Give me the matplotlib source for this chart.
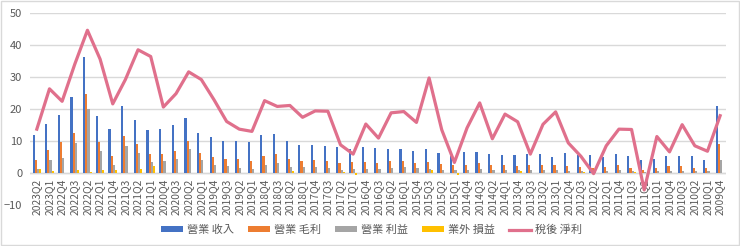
import numpy as np
import matplotlib
matplotlib.use("Agg")
import matplotlib.pyplot as plt
import matplotlib.transforms as mtrans
from matplotlib.patches import Rectangle

plt.rcParams['font.family'] = ['Noto Sans CJK TC', 'DejaVu Sans']

# quarters, newest first (as in the reference)
quarters = ["2023Q2", "2023Q1", "2022Q4", "2022Q3", "2022Q2", "2022Q1", "2021Q4", "2021Q3",
            "2021Q2", "2021Q1", "2020Q4", "2020Q3", "2020Q2", "2020Q1", "2019Q4", "2019Q3",
            "2019Q2", "2019Q1", "2018Q4", "2018Q3", "2018Q2", "2018Q1", "2017Q4", "2017Q3",
            "2017Q2", "2017Q1", "2016Q4", "2016Q3", "2016Q2", "2016Q1", "2015Q4", "2015Q3",
            "2015Q2", "2015Q1", "2014Q4", "2014Q3", "2014Q2", "2014Q1", "2013Q4", "2013Q3",
            "2013Q2", "2013Q1", "2012Q4", "2012Q3", "2012Q2", "2012Q1", "2011Q4", "2011Q3",
            "2011Q2", "2011Q1", "2010Q4", "2010Q3", "2010Q2", "2010Q1", "2009Q4"]

revenue = [12.0, 15.4, 18.0, 23.8, 36.3, 17.9, 13.7, 20.8, 16.7, 13.5, 13.9, 14.9, 17.3, 12.4,
           11.4, 9.9, 9.9, 9.8, 12.0, 12.3, 10.1, 8.6, 8.9, 8.3, 8.1, 7.6, 8.0, 7.9, 7.6, 7.5,
           6.8, 7.5, 6.4, 5.2, 6.6, 6.6, 5.8, 5.7, 5.7, 5.8, 5.8, 5.1, 6.4, 5.7, 5.7, 5.0,
           5.9, 5.3, 4.1, 4.4, 5.3, 5.4, 5.4, 4.2, 21.0]
gross = [4.2, 7.1, 9.6, 12.5, 24.6, 9.6, 5.2, 11.7, 9.2, 5.9, 5.9, 7.0, 10.0, 6.4,
         5.1, 4.5, 4.3, 3.9, 5.2, 5.9, 4.5, 3.9, 4.0, 3.9, 3.0, 3.4, 3.4, 3.2, 3.6, 3.9,
         3.0, 3.3, 2.7, 2.4, 2.5, 3.2, 2.4, 2.5, 2.2, 2.5, 2.5, 2.4, 2.1, 2.0, 1.6, 1.8,
         2.4, 1.7, 1.0, 1.6, 2.2, 2.2, 1.6, 1.6, 9.2]
op_income = [1.4, 4.0, 4.7, 9.4, 20.0, 7.0, 2.6, 8.3, 6.2, 3.4, 3.9, 4.5, 7.4, 4.0,
             2.5, 2.1, 1.7, 1.4, 2.5, 3.0, 2.0, 1.8, 2.0, 1.7, 0.8, 1.2, 1.4, 1.1, 1.6, 1.8,
             1.5, 1.4, 0.9, 0.8, 0.9, 1.4, 0.8, 0.9, 0.8, 0.9, 1.0, 0.8, 0.7, 0.7, 0.5, 0.5,
             0.8, 0.5, 0.4, 0.5, 0.7, 0.7, 0.5, 0.5, 4.0]
non_op = [1.4, 0.5, 0.1, 0.8, 0.2, 1.0, 1.0, -0.1, 1.2, 2.1, 0.0, 0.0, 0.0, 0.0,
          0.0, 0.0, 0.0, 0.0, 0.0, 0.0, 0.7, 0.0, 0.0, 0.0, 0.3, -0.6, 0.0, 0.0, 0.0, 0.0,
          0.0, 1.0, 0.0, -0.6, 0.0, 0.0, 0.0, 0.0, 0.5, 0.0, 0.0, 0.0, 0.0, 0.2, 0.0, 0.0,
          0.0, 0.3, 0.0, 0.0, 0.0, 0.0, 0.0, 0.0, 0.0]
net_income = [13.7, 26.3, 22.4, 34.0, 44.6, 35.6, 21.6, 29.2, 38.5, 36.4, 20.6, 24.8, 31.6, 29.2,
              22.9, 16.1, 13.7, 13.0, 22.6, 20.8, 21.1, 17.4, 19.4, 19.3, 8.8, 5.9, 15.3, 10.9,
              18.8, 19.2, 15.8, 29.7, 13.5, 3.3, 14.1, 21.9, 10.7, 18.4, 16.0, 5.9, 15.2, 19.1,
              9.4, 5.2, -0.2, 8.5, 13.7, 13.6, -5.3, 11.4, 6.6, 15.1, 8.5, 6.8, 17.9]

labels = ["營業 收入", "營業 毛利", "營業 利益", "業外 損益", "稅後 淨利"]
colors = ["#4472C4", "#ED7D31", "#A5A5A5", "#FFC000", "#E0708C"]

fig = plt.figure(figsize=(7.4, 2.46), dpi=100)
ax = fig.add_axes([0.0412, 0.1667, 0.9405, 0.7805])

x = np.arange(len(quarters))
w = 0.17
bars = []
for i, s in enumerate([revenue, gross, op_income, non_op]):
    b = ax.bar(x + (i - 1.5) * w, s, width=w, color=colors[i], label=labels[i], zorder=2)
    bars.append(b)
line, = ax.plot(x, net_income, color=colors[4], lw=2.3, label=labels[4], zorder=3)

ax.set_xlim(-0.5, len(quarters) - 0.5)
ax.set_ylim(-10, 50)
ax.set_yticks(range(-10, 51, 10))
ax.grid(axis='y', color='#d9d9d9', lw=1, zorder=0)
ax.axhline(0, color='#d9d9d9', lw=1, zorder=1)
for sp in ax.spines.values():
    sp.set_visible(False)

ax.set_xticks(x)
ax.set_xticklabels(quarters, rotation=90, fontsize=7.4, color='#595959', va='top')
ax.tick_params(axis='x', length=0, pad=4)
ax.tick_params(axis='y', length=0, pad=6, labelsize=8, labelcolor='#595959')

# move the category labels up so they hang just under the zero line (Excel style)
shift = mtrans.ScaledTranslation(0, 32 / 100, fig.dpi_scale_trans)
for lab in ax.get_xticklabels():
    lab.set_transform(lab.get_transform() + shift)

fig.legend(handles=bars + [line], labels=labels, loc='center', bbox_to_anchor=(0.502, 0.066),
           ncol=5, frameon=False, fontsize=8, handlelength=2.0, handleheight=0.45,
           handletextpad=0.3, columnspacing=1.3, labelcolor='#595959')

# thin frame round the whole chart
fig.patches.append(Rectangle((0.002, 0.004), 0.996, 0.99, transform=fig.transFigure,
                             fill=False, edgecolor='#d9d9d9', lw=1))

fig.savefig("out.png", dpi=100, facecolor='white')
